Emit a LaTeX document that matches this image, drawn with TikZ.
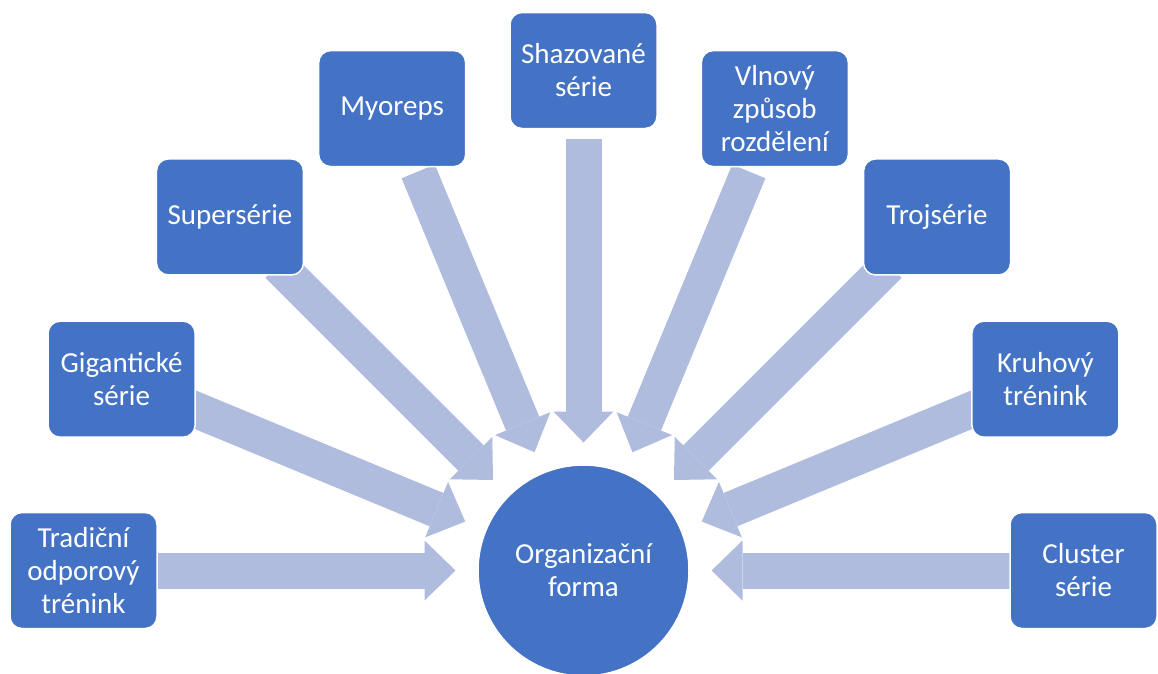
\documentclass[tikz,border=0pt]{standalone}
\usepackage{fontspec}
\setmainfont{Carlito}
\usetikzlibrary{arrows.meta,calc,backgrounds}
\definecolor{formblue}{RGB}{68,114,196}
\definecolor{pipeblue}{RGB}{175,188,222}

\begin{document}
\begin{tikzpicture}[
    x=1pt, y=-1pt,
    formbox/.style={draw=white,line width=1.5pt,fill=formblue,rounded corners=12pt,
        minimum width=147pt,minimum height=116pt,inner sep=2pt,align=center,
        text=white,font=\fontsize{29}{33}\selectfont},
    pipe/.style={pipeblue,line width=36pt,
        -{Triangle[width=60pt,length=31pt,line width=0pt]}},
]
\useasboundingbox (0,0) rectangle (1158,673);

% Centre
\node[circle,draw=white,line width=1.5pt,fill=formblue,minimum size=211pt,inner sep=0pt,
    outer sep=22.5pt,align=center,text=white,font=\fontsize{29}{33}\selectfont]
    (org) at (583.5,570.5) {Organizační\\forma};

% Boxes on a half ring
\foreach \ang/\nm/\txt in {
    180/trad/{Tradiční\\odporový\\trénink},
    202.5/gig/{Gigantické\\série},
    225/super/{Supersérie},
    247.5/myo/{Myoreps},
    270/shaz/{Shazované\\série},
    292.5/vln/{Vlnový\\způsob\\rozdělení},
    315/troj/{Trojsérie},
    337.5/kruh/{Kruhový\\trénink},
    360/clus/{Cluster\\série}}
    \node[formbox] (\nm) at ($(org)+(\ang:500)$) {\txt};

% Block arrows towards the centre
\begin{scope}[on background layer]
\foreach \nm in {trad,gig,super,myo,shaz,vln,troj,kruh,clus}
    \draw[pipe] ($(org)!432pt!(\nm)$) -- (org);
\end{scope}

\end{tikzpicture}
\end{document}
